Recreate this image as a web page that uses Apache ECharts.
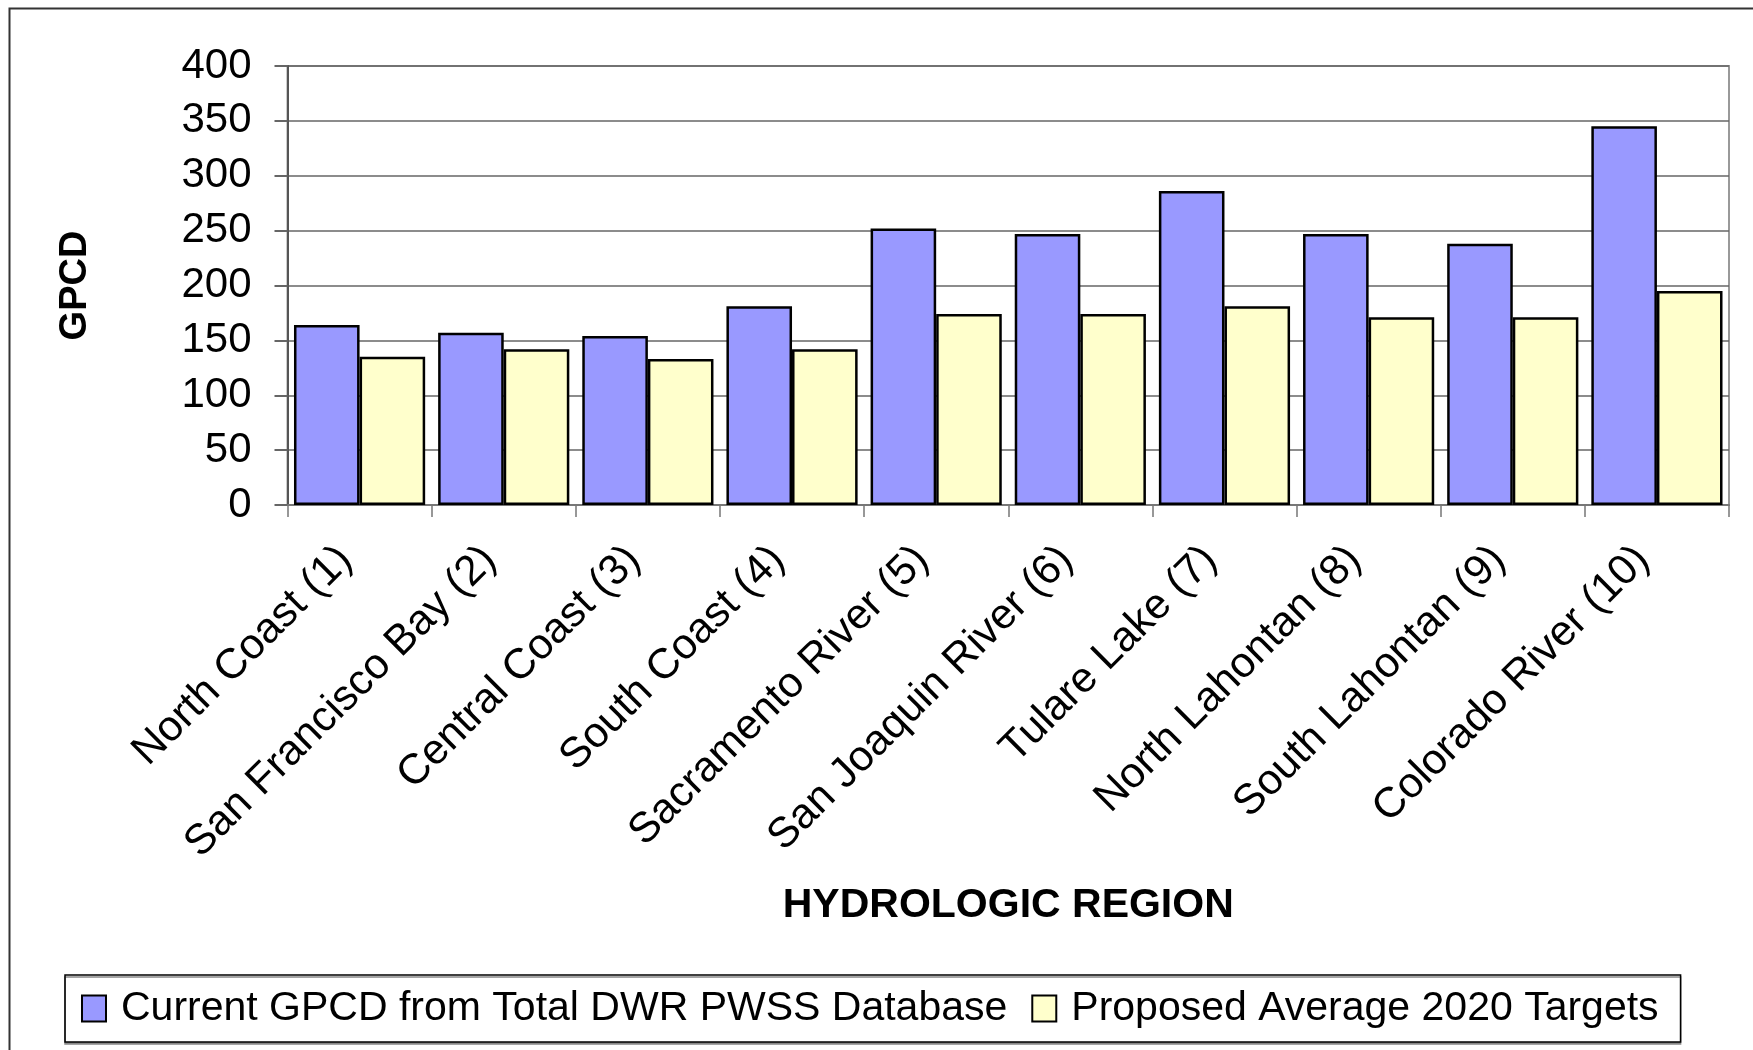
<!DOCTYPE html>
<html>
<head>
<meta charset="utf-8">
<script src="https://cdn.jsdelivr.net/npm/echarts@6/dist/echarts.min.js"></script>
<style>
html,body{margin:0;padding:0;background:#fff;}
#chart{width:1753px;height:1050px;}
</style>
</head>
<body>
<div id="chart"></div>
<script>
const categories = ['North Coast (1)', 'San Francisco Bay (2)', 'Central Coast (3)', 'South Coast (4)', 'Sacramento River (5)', 'San Joaquin River (6)', 'Tulare Lake (7)', 'North Lahontan (8)', 'South Lahontan (9)', 'Colorado River (10)'];
const currentGPCD = [164, 157, 154, 181, 252, 247, 286, 247, 238, 345];
const targets2020 = [135, 142, 133, 142, 174, 174, 181, 171, 171, 195];
const seriesNames = ['Current GPCD from Total DWR PWSS Database', 'Proposed Average 2020 Targets'];
const yTicks = [0, 50, 100, 150, 200, 250, 300, 350, 400];

const FONT = "'Liberation Sans', Arial, sans-serif";
const chart = echarts.init(document.getElementById('chart'), null, {renderer: 'canvas'});
chart.setOption({
  animation: false,
  backgroundColor: '#fff',
  textStyle: {fontFamily: FONT, color: '#000'},
  graphic: [{
    type: 'rect', left: 7, top: 6, z: -10, silent: true,
    shape: {x: 0, y: 0, width: 1800, height: 1100},
    style: {fill: 'none', stroke: '#333', lineWidth: 2}
  }],
  grid: {left: 287.5, right: 24, top: 66, bottom: 545, show: true, borderColor: '#999', borderWidth: 2, backgroundColor: 'transparent'},
  legend: {
    left: 65, top: 975,
    padding: [13, 22, 13, 16],
    borderColor: '#000', borderWidth: 1.5,
    backgroundColor: '#fff',
    shadowColor: '#888', shadowOffsetY: 2, shadowOffsetX: 0, shadowBlur: 0,
    icon: 'rect',
    itemWidth: 24, itemHeight: 26, itemGap: 24,
    textStyle: {fontSize: 41, fontFamily: FONT, color: '#000', padding: [0, 0, 0, 10]},
    data: seriesNames
  },
  xAxis: {
    type: 'category',
    data: categories,
    name: 'HYDROLOGIC REGION',
    nameLocation: 'middle',
    nameGap: 380,
    nameTextStyle: {fontSize: 41, fontWeight: 'bold', fontFamily: FONT, color: '#000'},
    axisLine: {show: true, lineStyle: {color: '#777', width: 2}},
    axisTick: {show: true, length: 12, lineStyle: {color: '#777', width: 1.5}},
    axisLabel: {rotate: 45, interval: 0, fontSize: 42.5, margin: 34, color: '#000', fontFamily: FONT, padding: [0, 20, 0, 0]},
    splitLine: {show: false}
  },
  yAxis: {
    type: 'value',
    min: yTicks[0], max: yTicks[yTicks.length - 1], interval: 50,
    name: 'GPCD',
    nameLocation: 'middle',
    nameGap: 193,
    nameTextStyle: {fontSize: 38, fontWeight: 'bold', fontFamily: FONT, color: '#000'},
    axisLine: {show: true, lineStyle: {color: '#555', width: 2}},
    axisTick: {show: true, length: 13, lineStyle: {color: '#666', width: 2}},
    axisLabel: {fontSize: 42, margin: 36, color: '#000', fontFamily: FONT},
    splitLine: {show: true, lineStyle: {color: '#666', width: 1.5}}
  },
  series: [{
    name: seriesNames[0], type: 'bar', data: currentGPCD,
    barGap: '0%', barCategoryGap: '9%',
    itemStyle: {color: '#9999FF', borderColor: '#000', borderWidth: 2.5}
  }, {
    name: seriesNames[1], type: 'bar', data: targets2020,
    barGap: '0%', barCategoryGap: '9%',
    itemStyle: {color: '#FFFFCC', borderColor: '#000', borderWidth: 2.5}
  }]
});
</script>
</body>
</html>
